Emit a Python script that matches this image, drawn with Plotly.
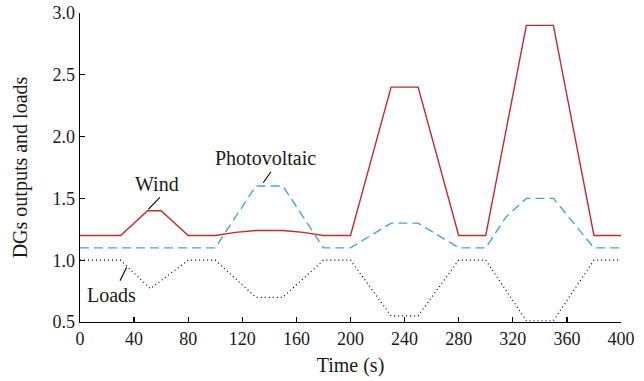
import plotly.graph_objects as go

# Data
wind_t = [0, 30, 50, 60, 80, 100, 115, 130, 150, 165, 180, 200, 230, 250, 280, 300, 330, 350, 380, 400]
wind_v = [1.2, 1.2, 1.4, 1.4, 1.2, 1.2, 1.225, 1.24, 1.24, 1.225, 1.2, 1.2, 2.4, 2.4, 1.2, 1.2, 2.9, 2.9, 1.2, 1.2]

pv_t = [0, 100, 130, 150, 180, 200, 215, 230, 250, 280, 300, 315, 330, 350, 380, 400]
pv_v = [1.1, 1.1, 1.6, 1.6, 1.1, 1.1, 1.2, 1.3, 1.3, 1.1, 1.1, 1.35, 1.5, 1.5, 1.1, 1.1]

load_t = [0, 30, 52, 80, 100, 130, 150, 180, 200, 230, 250, 280, 300, 330, 350, 380, 400]
load_v = [1.0, 1.0, 0.77, 1.0, 1.0, 0.7, 0.7, 1.0, 1.0, 0.55, 0.55, 1.0, 1.0, 0.51, 0.51, 1.0, 1.0]

x_ticks = [0, 40, 80, 120, 160, 200, 240, 280, 320, 360, 400]
y_ticks = [0.5, 1.0, 1.5, 2.0, 2.5, 3.0]
y_tick_text = ["0.5", "1.0", "1.5", "2.0", "2.5", "3.0"]

FONT = "Liberation Serif, Times New Roman, serif"
TXT = "#1a1a1a"

fig = go.Figure()
fig.add_trace(go.Scatter(x=wind_t, y=wind_v, mode="lines", name="Wind",
                         line=dict(color="#c8282a", width=1.4)))
fig.add_trace(go.Scatter(x=pv_t, y=pv_v, mode="lines", name="Photovoltaic",
                         line=dict(color="#4aa3d8", width=1.4, dash="9px,5px")))
fig.add_trace(go.Scatter(x=load_t, y=load_v, mode="lines", name="Loads",
                         line=dict(color="black", width=1.2, dash="1px,3px")))

# Annotations with leader lines
fig.add_annotation(x=57, y=1.62, text="Wind", showarrow=False,
                   font=dict(family=FONT, size=20, color=TXT))
fig.add_annotation(x=137, y=1.825, text="Photovoltaic", showarrow=False,
                   font=dict(family=FONT, size=20, color=TXT))
fig.add_annotation(x=23.5, y=0.72, text="Loads", showarrow=False,
                   font=dict(family=FONT, size=20, color=TXT))
fig.add_shape(type="line", x0=50.5, y0=1.412, x1=59.1, y1=1.509, line=dict(color="black", width=1.1))
fig.add_shape(type="line", x0=135.5, y0=1.627, x1=141.2, y1=1.716, line=dict(color="black", width=1.1))
fig.add_shape(type="line", x0=29.6, y0=0.834, x1=34.5, y1=0.943, line=dict(color="black", width=1.1))

axis_common = dict(showline=True, linecolor="black", linewidth=1.3, ticks="inside",
                   ticklen=5, tickcolor="black", tickwidth=1.3, showgrid=False,
                   zeroline=False, mirror=False, automargin=False,
                   tickfont=dict(family=FONT, size=18, color=TXT))

fig.update_xaxes(range=[0, 400], tickvals=x_ticks,
                 title=dict(text="Time (s)", font=dict(family=FONT, size=20, color=TXT), standoff=10),
                 **axis_common)
fig.update_yaxes(range=[0.5, 3.0], tickvals=y_ticks, ticktext=y_tick_text,
                 title=dict(text="DGs outputs and loads", font=dict(family=FONT, size=20, color=TXT), standoff=19),
                 **axis_common)

fig.update_layout(width=644, height=381, margin=dict(l=80, r=23, t=13, b=59, autoexpand=False),
                  plot_bgcolor="white", paper_bgcolor="white", showlegend=False,
                  hovermode=False)

# remove the default 8px page margin so the figure fills the window exactly
fig.write_html("out.html", config={"displayModeBar": False, "staticPlot": True},
               post_script="document.body.style.margin='0';document.body.style.overflow='hidden';")
